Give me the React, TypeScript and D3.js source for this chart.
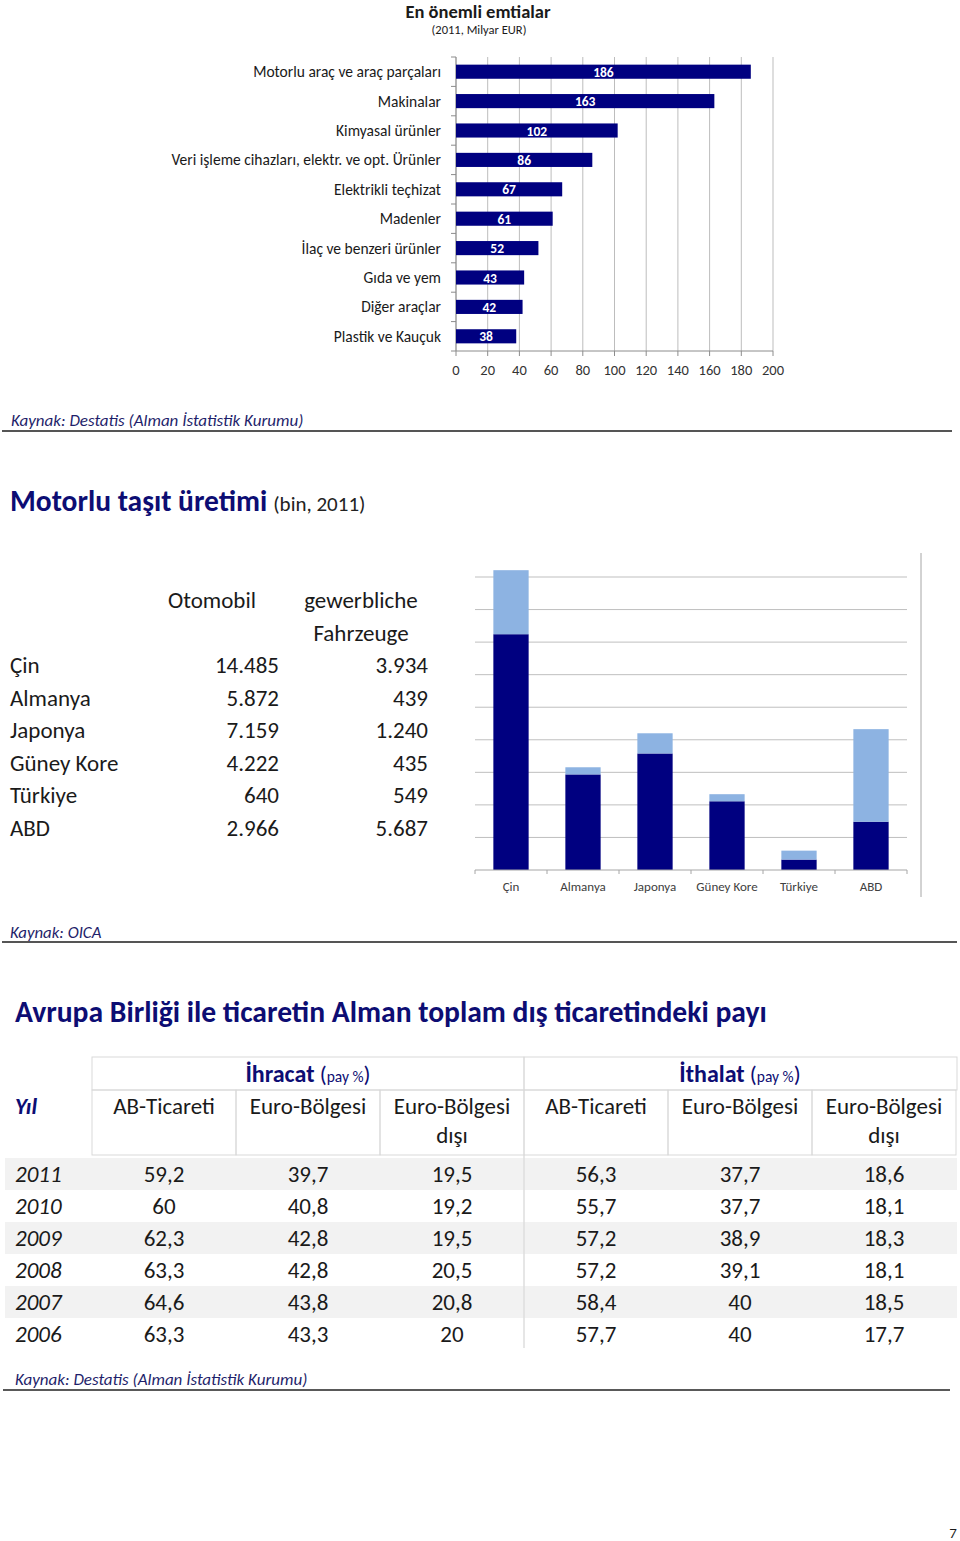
import React from "react";
import * as d3 from "d3";

const FONT = "Carlito, Calibri, Lato, 'Open Sans', sans-serif";
const NAVY = "#000080";
const LIGHT = "#8DB3E2";
const TITLE_NAVY = "#0d0d73";

// ---------- Chart 1: En önemli emtialar ----------
const commodityNames = [
  "Motorlu araç ve araç parçaları",
  "Makinalar",
  "Kimyasal ürünler",
  "Veri işleme cihazları, elektr. ve opt. Ürünler",
  "Elektrikli teçhizat",
  "Madenler",
  "İlaç ve benzeri ürünler",
  "Gıda ve yem",
  "Diğer araçlar",
  "Plastik ve Kauçuk",
];
const commodityValues = [186, 163, 102, 86, 67, 61, 52, 43, 42, 38];
const commodityTicks = [0, 20, 40, 60, 80, 100, 120, 140, 160, 180, 200];

// ---------- Chart 2: Motorlu taşıt üretimi ----------
const countries = ["Çin", "Almanya", "Japonya", "Güney Kore", "Türkiye", "ABD"];
const cars = [14485, 5872, 7159, 4222, 640, 2966];
const commercial = [3934, 439, 1240, 435, 549, 5687];
const vehicleGridTicks = [2000, 4000, 6000, 8000, 10000, 12000, 14000, 16000, 18000];

// ---------- Table 3 ----------
const years = [2011, 2010, 2009, 2008, 2007, 2006];
const expEU = [59.2, 60, 62.3, 63.3, 64.6, 63.3];
const expEuro = [39.7, 40.8, 42.8, 42.8, 43.8, 43.3];
const expNonEuro = [19.5, 19.2, 19.5, 20.5, 20.8, 20];
const impEU = [56.3, 55.7, 57.2, 57.2, 58.4, 57.7];
const impEuro = [37.7, 37.7, 38.9, 39.1, 40, 40];
const impNonEuro = [18.6, 18.1, 18.3, 18.1, 18.5, 17.7];
const subHeaders = [
  ["AB-Ticareti"],
  ["Euro-Bölgesi"],
  ["Euro-Bölgesi", "dışı"],
  ["AB-Ticareti"],
  ["Euro-Bölgesi"],
  ["Euro-Bölgesi", "dışı"],
];

const trLocale = d3.formatLocale({
  decimal: ",",
  thousands: ".",
  grouping: [3],
  currency: ["", ""],
});
const fmtThousands = trLocale.format(",");
const fmtDec = trLocale.format("~f");

export default function App() {
  // Chart 1 scales
  const x1 = d3.scaleLinear().domain([0, 200]).range([456, 773]);
  const y1 = d3
    .scaleBand<string>()
    .domain(commodityNames)
    .range([57, 351])
    .paddingInner(0.52)
    .paddingOuter(0.26);
  const step1 = y1.step();
  const bounds1 = d3.range(commodityNames.length + 1).map((i) => 57 + i * step1);

  // Chart 2 scales
  const x2 = d3.scaleBand<string>().domain(countries).range([475, 907]);
  const y2 = d3.scaleLinear().domain([0, 18000]).range([870, 577]);
  const stackData = countries.map((c, i) => ({ country: c, cars: cars[i], commercial: commercial[i] }));
  const series = d3.stack<any>().keys(["cars", "commercial"])(stackData);
  const barW = x2.bandwidth() * 0.49;
  const bounds2 = d3.range(countries.length + 1).map((i) => 475 + i * x2.step());

  // Table 3
  const colX = d3.scaleBand<number>().domain(d3.range(6)).range([92, 956]);
  const cols = [expEU, expEuro, expNonEuro, impEU, impEuro, impNonEuro];
  const rowY = d3.scaleBand<number>().domain(d3.range(years.length)).range([1158, 1350]);

  const T = 23; // table font size

  return (
    <svg
      width={960}
      height={1541}
      style={{ position: "absolute", left: 0, top: 0, background: "#fff" }}
      fontFamily={FONT}
    >
      {/* ===== Chart 1 ===== */}
      <text x={478} y={18} textAnchor="middle" fontSize={18.5} fontWeight="bold" fill="#1a1a1a">
        En önemli emtialar
      </text>
      <text x={479} y={34} textAnchor="middle" fontSize={12.5} fill="#1a1a1a">
        (2011, Milyar EUR)
      </text>
      {commodityTicks.map((t) => (
        <g key={"g1" + t}>
          <line x1={x1(t)} x2={x1(t)} y1={57} y2={351} stroke="#bdbdbd" strokeWidth={1} />
          <line x1={x1(t)} x2={x1(t)} y1={351} y2={356} stroke="#8c8c8c" />
          <text x={x1(t)} y={375} textAnchor="middle" fontSize={14.5} fill="#333">
            {t}
          </text>
        </g>
      ))}
      <line x1={456} x2={456} y1={57} y2={351} stroke="#8c8c8c" />
      <line x1={456} x2={773} y1={351} y2={351} stroke="#8c8c8c" />
      {bounds1.map((b, i) => (
        <line key={"t1" + i} x1={451} x2={456} y1={b} y2={b} stroke="#8c8c8c" />
      ))}
      {commodityNames.map((n, i) => {
        const y = y1(n)!;
        const h = y1.bandwidth();
        return (
          <g key={n}>
            <rect x={x1(0)} y={y} width={x1(commodityValues[i]) - x1(0)} height={h} fill={NAVY} />
            <text
              x={(x1(0) + x1(commodityValues[i])) / 2}
              y={y + h / 2 + 5}
              textAnchor="middle"
              fontSize={13.5}
              fontWeight="bold"
              fill="#fff"
            >
              {commodityValues[i]}
            </text>
            <text x={441} y={y + h / 2 + 5.5} textAnchor="end" fontSize={15.5} fill="#1a1a1a">
              {n}
            </text>
          </g>
        );
      })}

      <text x={11} y={426} fontSize={17} fontStyle="italic" fill="#1f1f6b">
        Kaynak: Destatis (Alman İstatistik Kurumu)
      </text>
      <line x1={2} x2={952} y1={431} y2={431} stroke="#555" strokeWidth={2} />

      {/* ===== Chart 2 ===== */}
      <text x={10} y={511} fill={TITLE_NAVY}>
        <tspan fontSize={29.5} fontWeight="bold">
          Motorlu taşıt üretimi
        </tspan>
        <tspan fontSize={21} fill="#222" dx={6}>
          (bin, 2011)
        </tspan>
      </text>

      <text x={212} y={608} textAnchor="middle" fontSize={T} fill="#1a1a1a">
        Otomobil
      </text>
      <text x={361} y={608} textAnchor="middle" fontSize={T} fill="#1a1a1a">
        gewerbliche
      </text>
      <text x={361} y={641} textAnchor="middle" fontSize={T} fill="#1a1a1a">
        Fahrzeuge
      </text>
      {countries.map((c, i) => {
        const yy = 673 + i * 32.5;
        return (
          <g key={"r" + c}>
            <text x={10} y={yy} fontSize={T} fill="#1a1a1a">
              {c}
            </text>
            <text x={279} y={yy} textAnchor="end" fontSize={T} fill="#1a1a1a">
              {fmtThousands(cars[i])}
            </text>
            <text x={428} y={yy} textAnchor="end" fontSize={T} fill="#1a1a1a">
              {fmtThousands(commercial[i])}
            </text>
          </g>
        );
      })}

      {vehicleGridTicks.map((t) => (
        <line key={"g2" + t} x1={475} x2={907} y1={y2(t)} y2={y2(t)} stroke="#bfbfbf" />
      ))}
      {series.map((s, si) =>
        s.map((d: any) => (
          <rect
            key={s.key + d.data.country}
            x={x2(d.data.country)! + x2.bandwidth() / 2 - barW / 2}
            y={y2(d[1])}
            width={barW}
            height={y2(d[0]) - y2(d[1])}
            fill={si === 0 ? NAVY : LIGHT}
          />
        ))
      )}
      <line x1={475} x2={907} y1={870} y2={870} stroke="#a6a6a6" />
      {bounds2.map((b, i) => (
        <line key={"t2" + i} x1={b} x2={b} y1={870} y2={874} stroke="#a6a6a6" />
      ))}
      {countries.map((c) => (
        <text
          key={"l2" + c}
          x={x2(c)! + x2.bandwidth() / 2}
          y={891}
          textAnchor="middle"
          fontSize={13}
          fill="#404040"
        >
          {c}
        </text>
      ))}
      <line x1={921} x2={921} y1={553} y2={897} stroke="#a6a6a6" />

      <text x={10} y={938} fontSize={16.8} fontStyle="italic" fill="#1f1f6b">
        Kaynak: OICA
      </text>
      <line x1={2} x2={957} y1={942} y2={942} stroke="#555" strokeWidth={2} />

      {/* ===== Table 3 ===== */}
      <text x={15} y={1022} fontSize={29.6} fontWeight="bold" fill={TITLE_NAVY}>
        Avrupa Birliği ile ticaretin Alman toplam dış ticaretindeki payı
      </text>

      {/* row backgrounds */}
      {years.map((yr, i) =>
        i % 2 === 0 ? (
          <rect key={"bg" + yr} x={5} y={rowY(i)!} width={952} height={rowY.bandwidth()} fill="#f2f2f2" />
        ) : null
      )}
      <line x1={524} x2={524} y1={1155} y2={1348} stroke="#dedede" strokeWidth={1.5} />

      {/* header borders */}
      <rect x={92} y={1057} width={432} height={33} fill="none" stroke="#d9d9d9" />
      <rect x={524} y={1057} width={433} height={33} fill="none" stroke="#d9d9d9" />
      {d3.range(6).map((i) => (
        <rect
          key={"hc" + i}
          x={colX(i)!}
          y={1090}
          width={colX.bandwidth()}
          height={65}
          fill="none"
          stroke="#d9d9d9"
        />
      ))}

      <text x={308} y={1082} textAnchor="middle" fill={TITLE_NAVY}>
        <tspan fontSize={24} fontWeight="bold">
          İhracat
        </tspan>
        <tspan fontSize={23}> (</tspan>
        <tspan fontSize={15.5}>pay %</tspan>
        <tspan fontSize={23}>)</tspan>
      </text>
      <text x={740} y={1082} textAnchor="middle" fill={TITLE_NAVY}>
        <tspan fontSize={24} fontWeight="bold">
          İthalat
        </tspan>
        <tspan fontSize={23}> (</tspan>
        <tspan fontSize={15.5}>pay %</tspan>
        <tspan fontSize={23}>)</tspan>
      </text>
      <text x={15} y={1114} fontSize={T} fontWeight="bold" fontStyle="italic" fill={TITLE_NAVY}>
        Yıl
      </text>
      {subHeaders.map((lines, i) =>
        lines.map((ln, j) => (
          <text
            key={"sh" + i + j}
            x={colX(i)! + colX.bandwidth() / 2}
            y={1114 + j * 29}
            textAnchor="middle"
            fontSize={T}
            fill="#1a1a1a"
          >
            {ln}
          </text>
        ))
      )}

      {years.map((yr, i) => {
        const yy = rowY(i)! + 24;
        return (
          <g key={"row" + yr}>
            <text x={15} y={yy} fontSize={T} fontStyle="italic" fill="#1a1a1a">
              {yr}
            </text>
            {cols.map((col, ci) => (
              <text
                key={"c" + ci}
                x={colX(ci)! + colX.bandwidth() / 2}
                y={yy}
                textAnchor="middle"
                fontSize={T}
                fill="#1a1a1a"
              >
                {fmtDec(col[i])}
              </text>
            ))}
          </g>
        );
      })}

      <text x={15} y={1385} fontSize={17} fontStyle="italic" fill="#1f1f6b">
        Kaynak: Destatis (Alman İstatistik Kurumu)
      </text>
      <line x1={3} x2={950} y1={1390} y2={1390} stroke="#222" strokeWidth={1.5} />

      <text x={953} y={1538} textAnchor="middle" fontSize={15} fill="#1a1a1a">
        7
      </text>
    </svg>
  );
}
